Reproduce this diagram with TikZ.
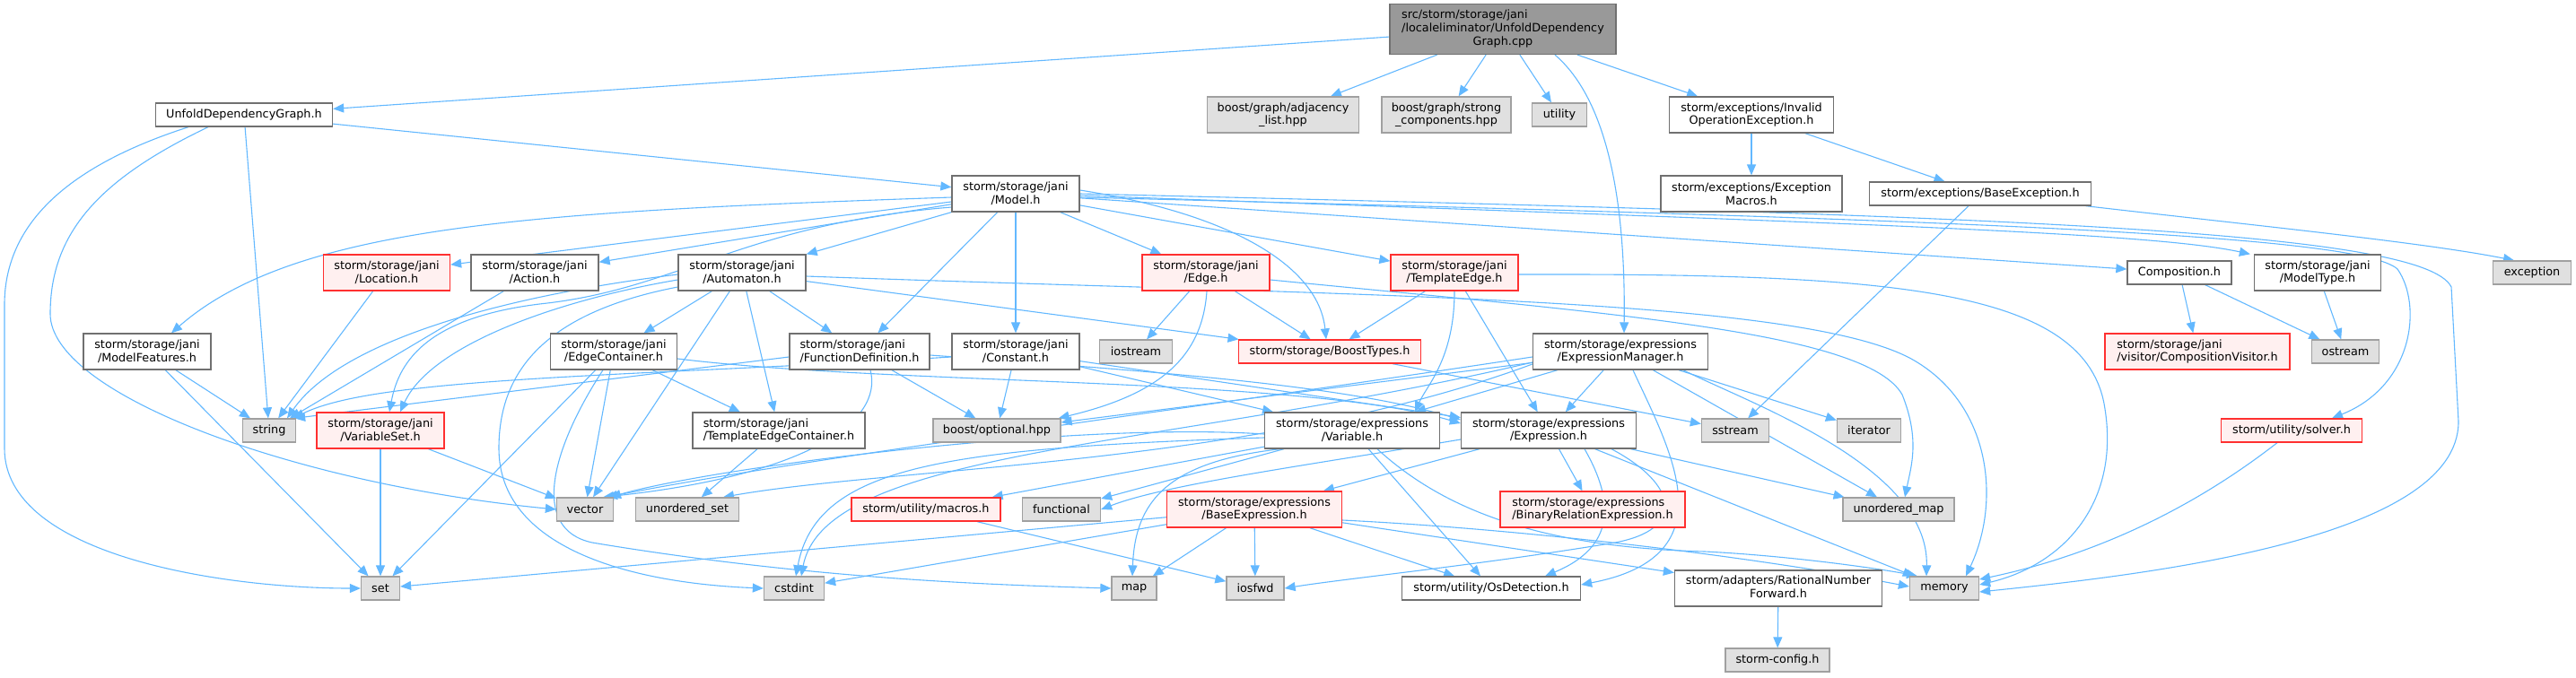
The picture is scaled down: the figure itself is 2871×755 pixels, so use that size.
\documentclass[tikz,border=0pt]{standalone}
\usepackage{fontspec}
\setmainfont{DejaVu Sans}
\usetikzlibrary{arrows.meta}
\definecolor{edgeblue}{HTML}{63B8FF}
\definecolor{nodeborder}{HTML}{707070}
\definecolor{grayborder}{HTML}{A0A0A0}
\definecolor{grayfill}{HTML}{E0E0E0}
\definecolor{redborder}{HTML}{FF3030}
\definecolor{redfill}{HTML}{FFF0F0}
\definecolor{rootfill}{HTML}{999999}
\definecolor{rootborder}{HTML}{707070}
\newcommand\dxfont{\fontsize{12.8}{14.7}\selectfont}
\pgfdeclarelayer{bg}
\pgfsetlayers{bg,main}
\tikzset{
  nb/.style={draw=nodeborder, fill=white, line width=1.3pt, inner sep=0pt, font=\dxfont, align=center},
  gb/.style={nb, draw=grayborder, fill=grayfill},
  rb/.style={nb, draw=redborder, fill=redfill},
  rootbox/.style={nb, draw=rootborder, fill=rootfill},
  sz/.style 2 args={minimum width=#1pt, minimum height=#2pt},
  dep/.style={draw=edgeblue, line width=1.1pt, -{Triangle[length=12pt,width=10pt]}},
}
\begin{document}
\begin{tikzpicture}[x=1pt,y=-1pt]
\useasboundingbox (0,0) rectangle (2871,755);
% ---------- nodes ----------
\node[rootbox, sz={252}{56}] (cpp) at (1675,32.5) {\begin{tabular}{@{}l@{}}src/storm/storage/jani\\/localeliminator/UnfoldDependency\\\multicolumn{1}{@{}c@{}}{Graph.cpp}\end{tabular}};
\node[nb, sz={197}{26}] (ufg) at (272,128) {UnfoldDependencyGraph.h};
\node[gb, sz={169}{40}] (adj) at (1430,128) {boost/graph/adjacency\\\_list.hpp};
\node[gb, sz={144}{40}] (strong) at (1612,128) {boost/graph/strong\\\_components.hpp};
\node[gb, sz={61}{26}] (utility) at (1738,128) {utility};
\node[nb, sz={183}{40}] (invop) at (1952,128) {storm/exceptions/Invalid\\OperationException.h};
\node[nb, sz={202}{40}] (excmac) at (1952,216) {storm/exceptions/Exception\\Macros.h};
\node[nb, sz={142}{40}] (model) at (1132,216) {storm/storage/jani\\/Model.h};
\node[nb, sz={247}{26}] (baseexc) at (2207,216) {storm/exceptions/BaseException.h};
\node[rb, sz={141}{40}] (location) at (431,304) {storm/storage/jani\\/Location.h};
\node[nb, sz={142}{40}] (action) at (596,304) {storm/storage/jani\\/Action.h};
\node[nb, sz={142}{40}] (automaton) at (827,304) {storm/storage/jani\\/Automaton.h};
\node[rb, sz={142}{40}] (edge) at (1344,304) {storm/storage/jani\\/Edge.h};
\node[rb, sz={142}{40}] (tedge) at (1621,304) {storm/storage/jani\\/TemplateEdge.h};
\node[nb, sz={116}{26}] (composition) at (2429,304) {Composition.h};
\node[nb, sz={141}{40}] (modeltype) at (2583,304) {storm/storage/jani\\/ModelType.h};
\node[gb, sz={87}{26}] (exception) at (2822,304) {exception};
\node[nb, sz={142}{40}] (modelfeat) at (164,392) {storm/storage/jani\\/ModelFeatures.h};
\node[nb, sz={141}{40}] (edgecont) at (684,392) {storm/storage/jani\\/EdgeContainer.h};
\node[nb, sz={156}{40}, align=left] (funcdef) at (958,392) {storm/storage/jani\\/FunctionDefinition.h};
\node[nb, sz={142}{40}] (constant) at (1132,392) {storm/storage/jani\\/Constant.h};
\node[gb, sz={81}{26}] (iostream) at (1266,392) {iostream};
\node[rb, sz={203}{26}] (boosttypes) at (1482,392) {storm/storage/BoostTypes.h};
\node[nb, sz={195}{40}] (exprmgr) at (1806,392) {storm/storage/expressions\\/ExpressionManager.h};
\node[rb, sz={206}{40}, align=left] (compvisitor) at (2449,392) {storm/storage/jani\\/visitor/CompositionVisitor.h};
\node[gb, sz={75}{26}] (ostream) at (2614,392) {ostream};
\node[gb, sz={59}{26}] (string) at (300,480) {string};
\node[rb, sz={142}{40}] (varset) at (424,480) {storm/storage/jani\\/VariableSet.h};
\node[nb, sz={192}{40}, align=left] (tedgecont) at (868,480) {storm/storage/jani\\/TemplateEdgeContainer.h};
\node[gb, sz={142}{26}] (optional) at (1111,480) {boost/optional.hpp};
\node[nb, sz={195}{40}] (variable) at (1507,480) {storm/storage/expressions\\/Variable.h};
\node[nb, sz={195}{40}] (expression) at (1726,480) {storm/storage/expressions\\/Expression.h};
\node[gb, sz={75}{26}] (sstream) at (1934,480) {sstream};
\node[gb, sz={71}{26}] (iterator) at (2083,480) {iterator};
\node[rb, sz={157}{26}] (solver) at (2554,480) {storm/utility/solver.h};
\node[gb, sz={63}{26}] (vector) at (652,568) {vector};
\node[gb, sz={115}{26}] (uset) at (766,568) {unordered\_set};
\node[rb, sz={166}{26}] (macros) at (1032,568) {storm/utility/macros.h};
\node[gb, sz={87}{26}] (functional) at (1183,568) {functional};
\node[rb, sz={195}{40}] (baseexpr) at (1398,568) {storm/storage/expressions\\/BaseExpression.h};
\node[rb, sz={206}{40}, align=left] (binrel) at (1775,568) {storm/storage/expressions\\/BinaryRelationExpression.h};
\node[gb, sz={124}{26}] (umap) at (2116,568) {unordered\_map};
\node[gb, sz={43}{26}] (set) at (424,656) {set};
\node[gb, sz={67}{26}] (cstdint) at (885,656) {cstdint};
\node[gb, sz={50}{26}] (map) at (1264,656) {map};
\node[gb, sz={64}{26}] (iosfwd) at (1399,656) {iosfwd};
\node[nb, sz={199}{26}] (osdet) at (1662,656) {storm/utility/OsDetection.h};
\node[nb, sz={231}{40}] (ratnum) at (1982,656) {\begin{tabular}{@{}l@{}}storm/adapters/RationalNumber\\\multicolumn{1}{@{}c@{}}{Forward.h}\end{tabular}};
\node[gb, sz={77}{26}] (memory) at (2167,656) {memory};
\node[gb, sz={116}{26}] (config) at (1981,736) {storm-config.h};
\begin{pgfonlayer}{bg}
% ---------- edges: top ----------
\draw[dep] (cpp) -- (ufg);
\draw[dep] (cpp) -- (adj);
\draw[dep] (cpp) -- (strong);
\draw[dep] (cpp) -- (utility);
\draw[dep] (cpp) -- (invop);
\draw[dep] ([xshift=58pt]cpp.south) .. controls (1790,110) and (1812,220) .. ([xshift=4pt]exprmgr.north);
\draw[dep] (ufg) -- (model);
\draw[dep] (ufg) -- (string);
\draw[dep] ([xshift=-40pt]ufg.south) .. controls (110,200) and (56,260) .. (56,350) .. controls (56,440) and (330,540) .. (vector.west);
\draw[dep] ([xshift=-62pt]ufg.south) .. controls (60,190) and (5,260) .. (5,340) -- (5,500) .. controls (5,620) and (250,656) .. (set.west);
\draw[dep] (invop) -- (excmac);
\draw[dep] (invop) -- (baseexc);
\draw[dep] (baseexc) .. controls (2500,250) and (2700,270) .. ([xshift=-20pt]exception.north);
\draw[dep] ([xshift=-13pt]baseexc.south) -- (sstream);
% ---------- Model.h ----------
\draw[dep] ([yshift=-4pt]model.west) .. controls (600,236) and (330,250) .. ([xshift=27pt]modelfeat.north);
\draw[dep] (model) -- (location);
\draw[dep] (model) -- (action);
\draw[dep] (model) -- (automaton);
\draw[dep] ([yshift=-15pt]model.west) .. controls (830,250) and (760,320) .. (610,338) .. controls (480,352) and (445,400) .. ([xshift=10pt]varset.north);
\draw[dep] (model) -- (funcdef);
\draw[dep] (model) -- (constant);
\draw[dep] (model) -- (edge);
\draw[dep] (model) -- (tedge);
\draw[dep] ([yshift=4pt]model.east) .. controls (1380,240) and (1470,300) .. ([xshift=-4pt]boosttypes.north);
\draw[dep] (model) -- (composition);
\draw[dep] ([yshift=-2pt]model.east) .. controls (2100,250) and (2400,260) .. ([xshift=-4pt]modeltype.north west);
\draw[dep] ([yshift=-4pt]model.east) .. controls (2200,245) and (2630,262) .. (2672,300) .. controls (2700,340) and (2690,430) .. ([xshift=45pt]solver.north);
\draw[dep] (model.east) .. controls (2200,240) and (2700,255) .. (2732,320) -- (2740,470) .. controls (2740,600) and (2400,640) .. ([yshift=-4pt]memory.east);
% ---------- Automaton.h ----------
\draw[dep] (automaton) -- (edgecont);
\draw[dep] (automaton) -- (funcdef);
\draw[dep] (automaton) -- (tedgecont);
\draw[dep] (automaton) -- (vector);
\draw[dep] (automaton) -- (boosttypes);
\draw[dep] ([yshift=-8pt]automaton.west) .. controls (620,335) and (480,385) .. ([xshift=22pt]varset.north);
\draw[dep] ([yshift=-2pt]automaton.west) .. controls (560,330) and (380,380) .. ([xshift=20pt]string.north);
\draw[dep] ([yshift=-16pt]automaton.west) .. controls (600,350) and (556,420) .. (556,500) .. controls (556,610) and (700,650) .. (cstdint.west);
\draw[dep] ([yshift=-4pt]automaton.east) .. controls (1500,330) and (2000,330) .. (2130,400) .. controls (2220,450) and (2230,560) .. ([xshift=24pt]memory.north);
% ---------- jani headers ----------
\draw[dep] (edgecont) -- (tedgecont);
\draw[dep] (edgecont) -- (vector);
\draw[dep] (edgecont) -- (set);
\draw[dep] ([xshift=-12pt]edgecont.south) .. controls (615,500) and (590,590) .. (660,605) .. controls (900,645) and (1100,652) .. (map.west);
\draw[dep] ([yshift=-8pt]edgecont.east) .. controls (1000,430) and (1450,420) .. ([yshift=8pt]expression.west);
\draw[dep] ([yshift=-6pt]funcdef.west) -- ([xshift=-2pt]string.north east);
\draw[dep] (funcdef) -- (optional);
\draw[dep] ([xshift=12pt]funcdef.south) .. controls (985,470) and (900,530) .. ([xshift=20pt]vector.north);
\draw[dep] ([yshift=-4pt]funcdef.east) .. controls (1300,415) and (1500,430) .. ([yshift=12pt]expression.west);
\draw[dep] (constant) -- (optional);
\draw[dep] (constant) -- (variable);
\draw[dep] (constant) -- (expression);
\draw[dep] ([yshift=-6pt]constant.west) .. controls (700,420) and (420,420) .. ([xshift=27pt]string.north);
\draw[dep] (edge) -- (iostream);
\draw[dep] (edge) -- (boosttypes);
\draw[dep] ([xshift=1pt]edge.south) .. controls (1340,400) and (1290,440) .. ([xshift=-3pt]optional.north east);
\draw[dep] ([yshift=-8pt]edge.east) .. controls (1800,350) and (2080,370) .. (2120,440) .. controls (2140,490) and (2130,520) .. ([xshift=7pt]umap.north);
\draw[dep] (tedge) -- (boosttypes);
\draw[dep] (tedge) -- (expression);
\draw[dep] (tedge.south) .. controls (1621,400) and (1590,430) .. ([xshift=70pt]variable.north);
\draw[dep] ([yshift=-2pt]tedge.east) .. controls (2100,305) and (2320,320) .. (2345,450) .. controls (2365,560) and (2300,630) .. ([yshift=4pt]memory.east);
\draw[dep] (varset) -- (set);
\draw[dep] (varset) -- (vector);
\draw[dep] (modelfeat) -- (string);
\draw[dep] (modelfeat) -- (set);
\draw[dep] (location) -- (string);
\draw[dep] (action) -- (string);
\draw[dep] (tedgecont) -- (uset);
\draw[dep] (composition) -- (compvisitor);
\draw[dep] (composition) -- (ostream);
\draw[dep] (modeltype) -- (ostream);
\draw[dep] ([xshift=-16pt]solver.south) .. controls (2440,570) and (2330,620) .. ([yshift=10pt]memory.east);
\draw[dep] (boosttypes) -- (sstream);
% ---------- expressions ----------
\draw[dep] (exprmgr) -- (variable);
\draw[dep] (exprmgr) -- (expression);
\draw[dep] (exprmgr) -- (iterator);
\draw[dep] (exprmgr) -- (umap);
\draw[dep] (exprmgr) -- (optional);
\draw[dep] ([xshift=14pt]exprmgr.south) .. controls (1860,500) and (1930,620) .. ([yshift=4pt]osdet.east);
\draw[dep] ([yshift=-6pt]exprmgr.west) .. controls (1300,460) and (900,510) .. ([xshift=24pt]vector.north);
\draw[dep] ([yshift=-12pt]exprmgr.west) .. controls (1300,500) and (920,500) .. ([xshift=8pt]cstdint.north);
\draw[dep] ([yshift=-14pt]exprmgr.west) .. controls (1400,520) and (1000,520) .. ([xshift=40pt]uset.north);
\draw[dep] ([xshift=70pt]exprmgr.south) .. controls (1950,450) and (2150,520) .. ([xshift=-20pt]memory.north);
\draw[dep] (variable) -- (osdet);
\draw[dep] (variable) -- (macros);
\draw[dep] (variable) -- (functional);
\draw[dep] ([yshift=-4pt]variable.west) .. controls (1200,470) and (800,520) .. ([xshift=28pt]vector.north);
\draw[dep] ([yshift=-8pt]variable.west) .. controls (1050,500) and (910,520) .. ([xshift=2pt]cstdint.north);
\draw[dep] ([xshift=-80pt]variable.south) .. controls (1300,515) and (1265,560) .. ([xshift=-2pt]map.north);
\draw[dep] ([xshift=28pt]variable.south) .. controls (1600,560) and (1700,610) .. (1900,615) .. controls (2000,620) and (2100,635) .. ([xshift=-30pt]memory.north);
\draw[dep] (expression) -- (baseexpr);
\draw[dep] (expression) -- (binrel);
\draw[dep] (expression) -- (umap);
\draw[dep] (expression) -- (memory);
\draw[dep] ([yshift=-10pt]expression.west) .. controls (1450,520) and (1300,540) .. (functional.east);
\draw[dep] ([xshift=70pt]expression.south) .. controls (1870,540) and (1880,590) .. (1800,605) .. controls (1650,630) and (1500,645) .. (iosfwd.east);
\draw[dep] ([xshift=40pt]expression.south) .. controls (1800,560) and (1800,610) .. ([xshift=60pt]osdet.north);
\draw[dep] (baseexpr) -- (set);
\draw[dep] (baseexpr) -- (cstdint);
\draw[dep] (baseexpr) -- (map);
\draw[dep] (baseexpr) -- (iosfwd);
\draw[dep] (baseexpr) -- (osdet);
\draw[dep] (baseexpr) -- (ratnum);
\draw[dep] ([yshift=-12pt]baseexpr.east) .. controls (1700,590) and (1950,620) .. ([yshift=2pt]memory.west);
\draw[dep] (macros) -- (iosfwd);
\draw[dep] (ratnum) -- (config);
\end{pgfonlayer}
\end{tikzpicture}
\end{document}
